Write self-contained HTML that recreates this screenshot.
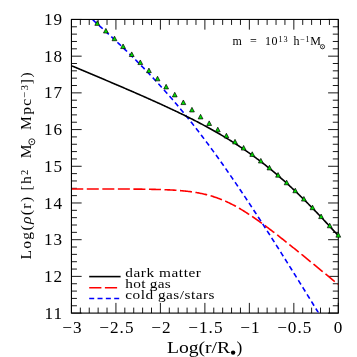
<!DOCTYPE html>
<html><head><meta charset="utf-8"><title>plot</title>
<style>
html,body{margin:0;padding:0;background:#fff;}
body{width:357px;height:357px;overflow:hidden;}
svg{display:block;will-change:transform;}
text{font-family:"Liberation Serif",serif;fill:#000;}
</style></head><body>
<svg width="357" height="357" viewBox="0 0 357 357">
<rect width="357" height="357" fill="#fff"/>
<defs><clipPath id="c"><rect x="71.95" y="19.95" width="265.85" height="292.65"/></clipPath></defs>
<path d="M71.45,313.1 v-10.2 M71.45,19.45 v10.2 M80.35,313.1 v-5.5 M80.35,19.45 v5.5 M89.24,313.1 v-5.5 M89.24,19.45 v5.5 M98.13,313.1 v-5.5 M98.13,19.45 v5.5 M107.03,313.1 v-5.5 M107.03,19.45 v5.5 M115.93,313.1 v-10.2 M115.93,19.45 v10.2 M124.82,313.1 v-5.5 M124.82,19.45 v5.5 M133.72,313.1 v-5.5 M133.72,19.45 v5.5 M142.61,313.1 v-5.5 M142.61,19.45 v5.5 M151.50,313.1 v-5.5 M151.50,19.45 v5.5 M160.40,313.1 v-10.2 M160.40,19.45 v10.2 M169.30,313.1 v-5.5 M169.30,19.45 v5.5 M178.19,313.1 v-5.5 M178.19,19.45 v5.5 M187.09,313.1 v-5.5 M187.09,19.45 v5.5 M195.98,313.1 v-5.5 M195.98,19.45 v5.5 M204.88,313.1 v-10.2 M204.88,19.45 v10.2 M213.77,313.1 v-5.5 M213.77,19.45 v5.5 M222.67,313.1 v-5.5 M222.67,19.45 v5.5 M231.56,313.1 v-5.5 M231.56,19.45 v5.5 M240.46,313.1 v-5.5 M240.46,19.45 v5.5 M249.35,313.1 v-10.2 M249.35,19.45 v10.2 M258.25,313.1 v-5.5 M258.25,19.45 v5.5 M267.14,313.1 v-5.5 M267.14,19.45 v5.5 M276.04,313.1 v-5.5 M276.04,19.45 v5.5 M284.93,313.1 v-5.5 M284.93,19.45 v5.5 M293.83,313.1 v-10.2 M293.83,19.45 v10.2 M302.72,313.1 v-5.5 M302.72,19.45 v5.5 M311.62,313.1 v-5.5 M311.62,19.45 v5.5 M320.51,313.1 v-5.5 M320.51,19.45 v5.5 M329.41,313.1 v-5.5 M329.41,19.45 v5.5 M338.30,313.1 v-10.2 M338.30,19.45 v10.2 M71.45,313.10 h10.2 M338.3,313.10 h-10.2 M71.45,305.76 h5.5 M338.3,305.76 h-5.5 M71.45,298.42 h5.5 M338.3,298.42 h-5.5 M71.45,291.08 h5.5 M338.3,291.08 h-5.5 M71.45,283.74 h5.5 M338.3,283.74 h-5.5 M71.45,276.39 h10.2 M338.3,276.39 h-10.2 M71.45,269.05 h5.5 M338.3,269.05 h-5.5 M71.45,261.71 h5.5 M338.3,261.71 h-5.5 M71.45,254.37 h5.5 M338.3,254.37 h-5.5 M71.45,247.03 h5.5 M338.3,247.03 h-5.5 M71.45,239.69 h10.2 M338.3,239.69 h-10.2 M71.45,232.35 h5.5 M338.3,232.35 h-5.5 M71.45,225.00 h5.5 M338.3,225.00 h-5.5 M71.45,217.66 h5.5 M338.3,217.66 h-5.5 M71.45,210.32 h5.5 M338.3,210.32 h-5.5 M71.45,202.98 h10.2 M338.3,202.98 h-10.2 M71.45,195.64 h5.5 M338.3,195.64 h-5.5 M71.45,188.30 h5.5 M338.3,188.30 h-5.5 M71.45,180.96 h5.5 M338.3,180.96 h-5.5 M71.45,173.62 h5.5 M338.3,173.62 h-5.5 M71.45,166.28 h10.2 M338.3,166.28 h-10.2 M71.45,158.93 h5.5 M338.3,158.93 h-5.5 M71.45,151.59 h5.5 M338.3,151.59 h-5.5 M71.45,144.25 h5.5 M338.3,144.25 h-5.5 M71.45,136.91 h5.5 M338.3,136.91 h-5.5 M71.45,129.57 h10.2 M338.3,129.57 h-10.2 M71.45,122.23 h5.5 M338.3,122.23 h-5.5 M71.45,114.89 h5.5 M338.3,114.89 h-5.5 M71.45,107.54 h5.5 M338.3,107.54 h-5.5 M71.45,100.20 h5.5 M338.3,100.20 h-5.5 M71.45,92.86 h10.2 M338.3,92.86 h-10.2 M71.45,85.52 h5.5 M338.3,85.52 h-5.5 M71.45,78.18 h5.5 M338.3,78.18 h-5.5 M71.45,70.84 h5.5 M338.3,70.84 h-5.5 M71.45,63.50 h5.5 M338.3,63.50 h-5.5 M71.45,56.16 h10.2 M338.3,56.16 h-10.2 M71.45,48.82 h5.5 M338.3,48.82 h-5.5 M71.45,41.47 h5.5 M338.3,41.47 h-5.5 M71.45,34.13 h5.5 M338.3,34.13 h-5.5 M71.45,26.79 h5.5 M338.3,26.79 h-5.5 M71.45,19.45 h10.2 M338.3,19.45 h-10.2" stroke="#000" stroke-width="0.9" fill="none"/>
<rect x="71.45" y="19.45" width="266.85" height="293.65" fill="none" stroke="#000" stroke-width="1.1"/>
<g clip-path="url(#c)" fill="none"><g transform="scale(1,1.00000)">
<path d="M71.45,188.93 L72.34,188.93 L73.23,188.93 L74.13,188.93 L75.02,188.93 L75.91,188.93 L76.80,188.93 L77.70,188.93 L78.59,188.93 L79.48,188.93 L80.37,188.93 L81.27,188.93 L82.16,188.93 L83.05,188.93 L83.94,188.93 L84.84,188.94 L85.73,188.94 L86.62,188.94 L87.51,188.94 L88.41,188.94 L89.30,188.94 L90.19,188.94 L91.08,188.94 L91.98,188.94 L92.87,188.94 L93.76,188.94 L94.65,188.94 L95.55,188.94 L96.44,188.95 L97.33,188.95 L98.22,188.95 L99.12,188.95 L100.01,188.95 L100.90,188.95 L101.79,188.95 L102.69,188.95 L103.58,188.96 L104.47,188.96 L105.36,188.96 L106.26,188.96 L107.15,188.96 L108.04,188.97 L108.93,188.97 L109.83,188.97 L110.72,188.97 L111.61,188.97 L112.50,188.98 L113.40,188.98 L114.29,188.98 L115.18,188.98 L116.07,188.99 L116.97,188.99 L117.86,188.99 L118.75,189.00 L119.64,189.00 L120.54,189.00 L121.43,189.01 L122.32,189.01 L123.21,189.02 L124.11,189.02 L125.00,189.02 L125.89,189.03 L126.78,189.03 L127.68,189.04 L128.57,189.04 L129.46,189.05 L130.35,189.06 L131.25,189.06 L132.14,189.07 L133.03,189.08 L133.92,189.08 L134.82,189.09 L135.71,189.10 L136.60,189.11 L137.49,189.12 L138.39,189.13 L139.28,189.13 L140.17,189.14 L141.06,189.16 L141.96,189.17 L142.85,189.18 L143.74,189.19 L144.63,189.20 L145.53,189.22 L146.42,189.23 L147.31,189.24 L148.20,189.26 L149.10,189.27 L149.99,189.29 L150.88,189.31 L151.77,189.33 L152.67,189.34 L153.56,189.36 L154.45,189.38 L155.34,189.41 L156.24,189.43 L157.13,189.45 L158.02,189.48 L158.91,189.50 L159.81,189.53 L160.70,189.56 L161.59,189.59 L162.48,189.62 L163.37,189.65 L164.27,189.68 L165.16,189.72 L166.05,189.76 L166.94,189.79 L167.84,189.83 L168.73,189.88 L169.62,189.92 L170.51,189.96 L171.41,190.01 L172.30,190.06 L173.19,190.11 L174.08,190.17 L174.98,190.22 L175.87,190.28 L176.76,190.34 L177.65,190.41 L178.55,190.48 L179.44,190.55 L180.33,190.62 L181.22,190.69 L182.12,190.77 L183.01,190.86 L183.90,190.94 L184.79,191.03 L185.69,191.12 L186.58,191.22 L187.47,191.32 L188.36,191.43 L189.26,191.54 L190.15,191.65 L191.04,191.77 L191.93,191.89 L192.83,192.02 L193.72,192.15 L194.61,192.29 L195.50,192.43 L196.40,192.58 L197.29,192.73 L198.18,192.89 L199.07,193.06 L199.97,193.23 L200.86,193.41 L201.75,193.59 L202.64,193.78 L203.54,193.98 L204.43,194.18 L205.32,194.39 L206.21,194.61 L207.11,194.83 L208.00,195.07 L208.89,195.31 L209.78,195.55 L210.68,195.81 L211.57,196.07 L212.46,196.34 L213.35,196.62 L214.25,196.90 L215.14,197.20 L216.03,197.50 L216.92,197.81 L217.82,198.13 L218.71,198.46 L219.60,198.79 L220.49,199.14 L221.39,199.49 L222.28,199.85 L223.17,200.22 L224.06,200.60 L224.96,200.99 L225.85,201.38 L226.74,201.78 L227.63,202.20 L228.53,202.62 L229.42,203.05 L230.31,203.48 L231.20,203.93 L232.10,204.38 L232.99,204.84 L233.88,205.31 L234.77,205.79 L235.67,206.27 L236.56,206.77 L237.45,207.27 L238.34,207.77 L239.24,208.29 L240.13,208.81 L241.02,209.34 L241.91,209.87 L242.81,210.41 L243.70,210.96 L244.59,211.52 L245.48,212.08 L246.38,212.65 L247.27,213.22 L248.16,213.80 L249.05,214.38 L249.94,214.97 L250.84,215.57 L251.73,216.17 L252.62,216.78 L253.51,217.39 L254.41,218.00 L255.30,218.62 L256.19,219.25 L257.08,219.87 L257.98,220.51 L258.87,221.14 L259.76,221.79 L260.65,222.43 L261.55,223.08 L262.44,223.73 L263.33,224.39 L264.22,225.04 L265.12,225.71 L266.01,226.37 L266.90,227.04 L267.79,227.71 L268.69,228.38 L269.58,229.06 L270.47,229.74 L271.36,230.42 L272.26,231.10 L273.15,231.79 L274.04,232.47 L274.93,233.16 L275.83,233.86 L276.72,234.55 L277.61,235.24 L278.50,235.94 L279.40,236.64 L280.29,237.34 L281.18,238.04 L282.07,238.75 L282.97,239.45 L283.86,240.16 L284.75,240.86 L285.64,241.57 L286.54,242.28 L287.43,243.00 L288.32,243.71 L289.21,244.42 L290.11,245.14 L291.00,245.85 L291.89,246.57 L292.78,247.28 L293.68,248.00 L294.57,248.72 L295.46,249.44 L296.35,250.16 L297.25,250.88 L298.14,251.60 L299.03,252.33 L299.92,253.05 L300.82,253.77 L301.71,254.50 L302.60,255.22 L303.49,255.95 L304.39,256.67 L305.28,257.40 L306.17,258.13 L307.06,258.85 L307.96,259.58 L308.85,260.31 L309.74,261.04 L310.63,261.77 L311.53,262.50 L312.42,263.23 L313.31,263.96 L314.20,264.69 L315.10,265.42 L315.99,266.15 L316.88,266.88 L317.77,267.61 L318.67,268.34 L319.56,269.07 L320.45,269.80 L321.34,270.54 L322.24,271.27 L323.13,272.00 L324.02,272.73 L324.91,273.47 L325.81,274.20 L326.70,274.93 L327.59,275.66 L328.48,276.40 L329.38,277.13 L330.27,277.87 L331.16,278.60 L332.05,279.33 L332.95,280.07 L333.84,280.80 L334.73,281.54 L335.62,282.27 L336.52,283.01 L337.41,283.74 L338.30,284.47" stroke="#ff0000" stroke-width="1.6" stroke-dasharray="12 3.54" stroke-dashoffset="0.2"/>
<path d="M71.45,1.11 L72.34,1.88 L73.23,2.65 L74.13,3.43 L75.02,4.20 L75.91,4.98 L76.80,5.75 L77.70,6.53 L78.59,7.31 L79.48,8.09 L80.37,8.87 L81.27,9.65 L82.16,10.43 L83.05,11.21 L83.94,12.00 L84.84,12.78 L85.73,13.57 L86.62,14.35 L87.51,15.14 L88.41,15.93 L89.30,16.72 L90.19,17.51 L91.08,18.30 L91.98,19.10 L92.87,19.89 L93.76,20.69 L94.65,21.49 L95.55,22.28 L96.44,23.08 L97.33,23.89 L98.22,24.69 L99.12,25.49 L100.01,26.30 L100.90,27.11 L101.79,27.91 L102.69,28.72 L103.58,29.54 L104.47,30.35 L105.36,31.16 L106.26,31.98 L107.15,32.80 L108.04,33.62 L108.93,34.44 L109.83,35.26 L110.72,36.09 L111.61,36.92 L112.50,37.74 L113.40,38.58 L114.29,39.41 L115.18,40.24 L116.07,41.08 L116.97,41.92 L117.86,42.76 L118.75,43.60 L119.64,44.45 L120.54,45.29 L121.43,46.14 L122.32,46.99 L123.21,47.85 L124.11,48.70 L125.00,49.56 L125.89,50.42 L126.78,51.28 L127.68,52.15 L128.57,53.02 L129.46,53.89 L130.35,54.76 L131.25,55.64 L132.14,56.51 L133.03,57.39 L133.92,58.28 L134.82,59.16 L135.71,60.05 L136.60,60.94 L137.49,61.84 L138.39,62.74 L139.28,63.64 L140.17,64.54 L141.06,65.45 L141.96,66.36 L142.85,67.27 L143.74,68.18 L144.63,69.10 L145.53,70.03 L146.42,70.95 L147.31,71.88 L148.20,72.81 L149.10,73.75 L149.99,74.68 L150.88,75.63 L151.77,76.57 L152.67,77.52 L153.56,78.47 L154.45,79.43 L155.34,80.39 L156.24,81.35 L157.13,82.32 L158.02,83.29 L158.91,84.26 L159.81,85.24 L160.70,86.22 L161.59,87.21 L162.48,88.19 L163.37,89.19 L164.27,90.18 L165.16,91.19 L166.05,92.19 L166.94,93.20 L167.84,94.21 L168.73,95.23 L169.62,96.25 L170.51,97.27 L171.41,98.30 L172.30,99.33 L173.19,100.37 L174.08,101.41 L174.98,102.46 L175.87,103.51 L176.76,104.56 L177.65,105.62 L178.55,106.68 L179.44,107.75 L180.33,108.82 L181.22,109.89 L182.12,110.97 L183.01,112.05 L183.90,113.14 L184.79,114.23 L185.69,115.33 L186.58,116.43 L187.47,117.53 L188.36,118.64 L189.26,119.75 L190.15,120.87 L191.04,121.99 L191.93,123.11 L192.83,124.24 L193.72,125.38 L194.61,126.52 L195.50,127.66 L196.40,128.80 L197.29,129.96 L198.18,131.11 L199.07,132.27 L199.97,133.43 L200.86,134.60 L201.75,135.77 L202.64,136.95 L203.54,138.13 L204.43,139.31 L205.32,140.50 L206.21,141.69 L207.11,142.89 L208.00,144.09 L208.89,145.29 L209.78,146.50 L210.68,147.71 L211.57,148.92 L212.46,150.14 L213.35,151.37 L214.25,152.59 L215.14,153.82 L216.03,155.06 L216.92,156.30 L217.82,157.54 L218.71,158.78 L219.60,160.03 L220.49,161.29 L221.39,162.54 L222.28,163.80 L223.17,165.07 L224.06,166.33 L224.96,167.60 L225.85,168.88 L226.74,170.15 L227.63,171.43 L228.53,172.72 L229.42,174.00 L230.31,175.29 L231.20,176.59 L232.10,177.88 L232.99,179.18 L233.88,180.48 L234.77,181.79 L235.67,183.10 L236.56,184.41 L237.45,185.72 L238.34,187.04 L239.24,188.36 L240.13,189.68 L241.02,191.01 L241.91,192.34 L242.81,193.67 L243.70,195.00 L244.59,196.34 L245.48,197.68 L246.38,199.02 L247.27,200.36 L248.16,201.71 L249.05,203.05 L249.94,204.40 L250.84,205.76 L251.73,207.11 L252.62,208.47 L253.51,209.83 L254.41,211.19 L255.30,212.56 L256.19,213.92 L257.08,215.29 L257.98,216.66 L258.87,218.04 L259.76,219.41 L260.65,220.79 L261.55,222.17 L262.44,223.55 L263.33,224.93 L264.22,226.31 L265.12,227.70 L266.01,229.09 L266.90,230.47 L267.79,231.87 L268.69,233.26 L269.58,234.65 L270.47,236.05 L271.36,237.45 L272.26,238.84 L273.15,240.25 L274.04,241.65 L274.93,243.05 L275.83,244.46 L276.72,245.86 L277.61,247.27 L278.50,248.68 L279.40,250.09 L280.29,251.50 L281.18,252.92 L282.07,254.33 L282.97,255.75 L283.86,257.16 L284.75,258.58 L285.64,260.00 L286.54,261.42 L287.43,262.84 L288.32,264.26 L289.21,265.69 L290.11,267.11 L291.00,268.54 L291.89,269.96 L292.78,271.39 L293.68,272.82 L294.57,274.25 L295.46,275.68 L296.35,277.11 L297.25,278.54 L298.14,279.98 L299.03,281.41 L299.92,282.85 L300.82,284.28 L301.71,285.72 L302.60,287.16 L303.49,288.60 L304.39,290.03 L305.28,291.47 L306.17,292.91 L307.06,294.36 L307.96,295.80 L308.85,297.24 L309.74,298.68 L310.63,300.13 L311.53,301.57 L312.42,303.02 L313.31,304.46 L314.20,305.91 L315.10,307.36 L315.99,308.80 L316.88,310.25 L317.77,311.70 L318.67,313.15 L319.56,314.60 L320.45,316.05 L321.34,317.50 L322.24,318.95 L323.13,320.40 L324.02,321.86 L324.91,323.31 L325.81,324.76 L326.70,326.21 L327.59,327.67 L328.48,329.12 L329.38,330.58 L330.27,332.03 L331.16,333.49 L332.05,334.94 L332.95,336.40 L333.84,337.86 L334.73,339.32 L335.62,340.77 L336.52,342.23 L337.41,343.69 L338.30,345.15" stroke="#0000ff" stroke-width="1.6" stroke-dasharray="5 3.33" stroke-dashoffset="-3.38"/>
<path d="M71.45,65.75 L72.34,66.12 L73.23,66.49 L74.13,66.86 L75.02,67.24 L75.91,67.61 L76.80,67.98 L77.70,68.36 L78.59,68.73 L79.48,69.10 L80.37,69.47 L81.27,69.85 L82.16,70.22 L83.05,70.60 L83.94,70.97 L84.84,71.34 L85.73,71.72 L86.62,72.09 L87.51,72.47 L88.41,72.84 L89.30,73.22 L90.19,73.59 L91.08,73.97 L91.98,74.34 L92.87,74.72 L93.76,75.09 L94.65,75.47 L95.55,75.84 L96.44,76.22 L97.33,76.59 L98.22,76.97 L99.12,77.35 L100.01,77.72 L100.90,78.10 L101.79,78.48 L102.69,78.86 L103.58,79.23 L104.47,79.61 L105.36,79.99 L106.26,80.37 L107.15,80.75 L108.04,81.12 L108.93,81.50 L109.83,81.88 L110.72,82.26 L111.61,82.64 L112.50,83.02 L113.40,83.40 L114.29,83.78 L115.18,84.16 L116.07,84.54 L116.97,84.92 L117.86,85.31 L118.75,85.69 L119.64,86.07 L120.54,86.45 L121.43,86.84 L122.32,87.22 L123.21,87.60 L124.11,87.99 L125.00,88.37 L125.89,88.76 L126.78,89.14 L127.68,89.53 L128.57,89.91 L129.46,90.30 L130.35,90.68 L131.25,91.07 L132.14,91.46 L133.03,91.85 L133.92,92.23 L134.82,92.62 L135.71,93.01 L136.60,93.40 L137.49,93.79 L138.39,94.18 L139.28,94.57 L140.17,94.97 L141.06,95.36 L141.96,95.75 L142.85,96.14 L143.74,96.54 L144.63,96.93 L145.53,97.33 L146.42,97.72 L147.31,98.12 L148.20,98.52 L149.10,98.91 L149.99,99.31 L150.88,99.71 L151.77,100.11 L152.67,100.51 L153.56,100.91 L154.45,101.31 L155.34,101.71 L156.24,102.12 L157.13,102.52 L158.02,102.93 L158.91,103.33 L159.81,103.74 L160.70,104.14 L161.59,104.55 L162.48,104.96 L163.37,105.37 L164.27,105.78 L165.16,106.19 L166.05,106.61 L166.94,107.02 L167.84,107.43 L168.73,107.85 L169.62,108.27 L170.51,108.68 L171.41,109.10 L172.30,109.52 L173.19,109.94 L174.08,110.37 L174.98,110.79 L175.87,111.21 L176.76,111.64 L177.65,112.07 L178.55,112.49 L179.44,112.92 L180.33,113.35 L181.22,113.79 L182.12,114.22 L183.01,114.65 L183.90,115.09 L184.79,115.53 L185.69,115.97 L186.58,116.41 L187.47,116.85 L188.36,117.29 L189.26,117.74 L190.15,118.19 L191.04,118.63 L191.93,119.08 L192.83,119.54 L193.72,119.99 L194.61,120.44 L195.50,120.90 L196.40,121.36 L197.29,121.82 L198.18,122.28 L199.07,122.75 L199.97,123.21 L200.86,123.68 L201.75,124.15 L202.64,124.63 L203.54,125.10 L204.43,125.58 L205.32,126.06 L206.21,126.54 L207.11,127.02 L208.00,127.51 L208.89,127.99 L209.78,128.49 L210.68,128.98 L211.57,129.47 L212.46,129.97 L213.35,130.47 L214.25,130.97 L215.14,131.48 L216.03,131.99 L216.92,132.50 L217.82,133.01 L218.71,133.52 L219.60,134.04 L220.49,134.56 L221.39,135.09 L222.28,135.61 L223.17,136.14 L224.06,136.68 L224.96,137.21 L225.85,137.75 L226.74,138.29 L227.63,138.84 L228.53,139.38 L229.42,139.94 L230.31,140.49 L231.20,141.05 L232.10,141.61 L232.99,142.17 L233.88,142.74 L234.77,143.31 L235.67,143.88 L236.56,144.46 L237.45,145.04 L238.34,145.63 L239.24,146.22 L240.13,146.81 L241.02,147.40 L241.91,148.00 L242.81,148.60 L243.70,149.21 L244.59,149.82 L245.48,150.43 L246.38,151.05 L247.27,151.67 L248.16,152.30 L249.05,152.93 L249.94,153.56 L250.84,154.20 L251.73,154.84 L252.62,155.48 L253.51,156.13 L254.41,156.79 L255.30,157.44 L256.19,158.10 L257.08,158.77 L257.98,159.44 L258.87,160.11 L259.76,160.79 L260.65,161.47 L261.55,162.16 L262.44,162.85 L263.33,163.54 L264.22,164.24 L265.12,164.94 L266.01,165.65 L266.90,166.36 L267.79,167.07 L268.69,167.79 L269.58,168.52 L270.47,169.25 L271.36,169.98 L272.26,170.71 L273.15,171.46 L274.04,172.20 L274.93,172.95 L275.83,173.70 L276.72,174.46 L277.61,175.22 L278.50,175.99 L279.40,176.76 L280.29,177.53 L281.18,178.31 L282.07,179.10 L282.97,179.88 L283.86,180.68 L284.75,181.47 L285.64,182.27 L286.54,183.07 L287.43,183.88 L288.32,184.69 L289.21,185.51 L290.11,186.33 L291.00,187.15 L291.89,187.98 L292.78,188.82 L293.68,189.65 L294.57,190.49 L295.46,191.34 L296.35,192.18 L297.25,193.03 L298.14,193.89 L299.03,194.75 L299.92,195.61 L300.82,196.48 L301.71,197.35 L302.60,198.22 L303.49,199.10 L304.39,199.98 L305.28,200.87 L306.17,201.76 L307.06,202.65 L307.96,203.54 L308.85,204.44 L309.74,205.35 L310.63,206.25 L311.53,207.16 L312.42,208.07 L313.31,208.99 L314.20,209.91 L315.10,210.83 L315.99,211.76 L316.88,212.68 L317.77,213.62 L318.67,214.55 L319.56,215.49 L320.45,216.43 L321.34,217.37 L322.24,218.32 L323.13,219.27 L324.02,220.22 L324.91,221.17 L325.81,222.13 L326.70,223.09 L327.59,224.05 L328.48,225.02 L329.38,225.99 L330.27,226.96 L331.16,227.93 L332.05,228.91 L332.95,229.89 L333.84,230.87 L334.73,231.85 L335.62,232.83 L336.52,233.82 L337.41,234.81 L338.30,235.80" stroke="#000" stroke-width="1.6"/>
</g>
</g>
<g fill="#00e000" stroke="#000" stroke-width="0.7" stroke-linejoin="miter"><path d="M94.87,25.36 L99.67,25.36 L97.27,20.76 Z"/><path d="M103.48,33.00 L108.28,33.00 L105.88,28.40 Z"/><path d="M112.09,40.73 L116.89,40.73 L114.49,36.13 Z"/><path d="M120.70,48.57 L125.50,48.57 L123.10,43.97 Z"/><path d="M129.31,56.52 L134.11,56.52 L131.71,51.92 Z"/><path d="M137.91,64.57 L142.71,64.57 L140.31,59.97 Z"/><path d="M146.52,72.68 L151.32,72.68 L148.92,68.08 Z"/><path d="M155.13,80.83 L159.93,80.83 L157.53,76.23 Z"/><path d="M163.74,88.93 L168.54,88.93 L166.14,84.33 Z"/><path d="M172.35,96.88 L177.15,96.88 L174.75,92.28 Z"/><path d="M180.95,104.59 L185.75,104.59 L183.35,99.99 Z"/><path d="M189.56,111.95 L194.36,111.95 L191.96,107.35 Z"/><path d="M198.17,118.92 L202.97,118.92 L200.57,114.32 Z"/><path d="M206.78,125.49 L211.58,125.49 L209.18,120.89 Z"/><path d="M215.39,131.77 L220.19,131.77 L217.79,127.17 Z"/><path d="M224.00,137.86 L228.80,137.86 L226.40,133.26 Z"/><path d="M232.60,143.92 L237.40,143.92 L235.00,139.32 Z"/><path d="M241.21,150.06 L246.01,150.06 L243.61,145.46 Z"/><path d="M249.82,156.39 L254.62,156.39 L252.22,151.79 Z"/><path d="M258.43,162.99 L263.23,162.99 L260.83,158.39 Z"/><path d="M267.04,169.90 L271.84,169.90 L269.44,165.30 Z"/><path d="M275.64,177.16 L280.44,177.16 L278.04,172.56 Z"/><path d="M284.25,184.78 L289.05,184.78 L286.65,180.18 Z"/><path d="M292.86,192.76 L297.66,192.76 L295.26,188.16 Z"/><path d="M301.47,201.07 L306.27,201.07 L303.87,196.47 Z"/><path d="M310.08,209.70 L314.88,209.70 L312.48,205.10 Z"/><path d="M318.68,218.61 L323.48,218.61 L321.08,214.01 Z"/><path d="M327.29,227.78 L332.09,227.78 L329.69,223.18 Z"/><path d="M335.90,237.15 L340.70,237.15 L338.30,232.55 Z"/></g>
<text transform="translate(63.2,318.70) scale(1.06,1)" font-size="16.2" text-anchor="end" letter-spacing="1.0">11</text>
<text transform="translate(63.2,281.99) scale(1.06,1)" font-size="16.2" text-anchor="end" letter-spacing="1.0">12</text>
<text transform="translate(63.2,245.29) scale(1.06,1)" font-size="16.2" text-anchor="end" letter-spacing="1.0">13</text>
<text transform="translate(63.2,208.58) scale(1.06,1)" font-size="16.2" text-anchor="end" letter-spacing="1.0">14</text>
<text transform="translate(63.2,171.88) scale(1.06,1)" font-size="16.2" text-anchor="end" letter-spacing="1.0">15</text>
<text transform="translate(63.2,135.17) scale(1.06,1)" font-size="16.2" text-anchor="end" letter-spacing="1.0">16</text>
<text transform="translate(63.2,98.46) scale(1.06,1)" font-size="16.2" text-anchor="end" letter-spacing="1.0">17</text>
<text transform="translate(63.2,61.76) scale(1.06,1)" font-size="16.2" text-anchor="end" letter-spacing="1.0">18</text>
<text transform="translate(63.2,25.05) scale(1.06,1)" font-size="16.2" text-anchor="end" letter-spacing="1.0">19</text>
<text transform="translate(72.45,332.8) scale(1.06,1)" font-size="16.2" text-anchor="middle" letter-spacing="1.0">−3</text>
<text transform="translate(116.93,332.8) scale(1.06,1)" font-size="16.2" text-anchor="middle" letter-spacing="1.0">−2.5</text>
<text transform="translate(161.40,332.8) scale(1.06,1)" font-size="16.2" text-anchor="middle" letter-spacing="1.0">−2</text>
<text transform="translate(205.88,332.8) scale(1.06,1)" font-size="16.2" text-anchor="middle" letter-spacing="1.0">−1.5</text>
<text transform="translate(250.35,332.8) scale(1.06,1)" font-size="16.2" text-anchor="middle" letter-spacing="1.0">−1</text>
<text transform="translate(294.83,332.8) scale(1.06,1)" font-size="16.2" text-anchor="middle" letter-spacing="1.0">−0.5</text>
<text transform="translate(338.50,332.8) scale(1.06,1)" font-size="16.2" text-anchor="middle" letter-spacing="1.0">0</text>
<text x="166.9" y="353.2" font-size="16.5" textLength="63.3" lengthAdjust="spacingAndGlyphs">Log(r/R</text>
<circle cx="233.1" cy="352.6" r="2.2" fill="#000"/>
<text x="236.4" y="353.2" font-size="16.5" textLength="5.8" lengthAdjust="spacingAndGlyphs">)</text>
<g transform="translate(31.2,259.6) rotate(-90)" font-size="15.5" letter-spacing="1.37">
<text x="0" y="0">Log(<tspan font-style="italic">ρ</tspan>(r)</text>
<text x="69.0" y="0">[h<tspan font-size="10.5" dy="-3.3">2</tspan></text>
<text x="101.4" y="0">M</text>
<circle cx="117.8" cy="0.6" r="3.0" fill="none" stroke="#000" stroke-width="0.85"/><circle cx="117.8" cy="0.6" r="0.75" fill="#000"/>
<text x="129.6" y="0">Mpc<tspan font-size="10.5" dy="-3.3">−3</tspan><tspan dy="3.3" dx="-0.6">])</tspan></text>
</g>
<text x="232.6" y="45.3" font-size="12" letter-spacing="0.7" xml:space="preserve">m  =  10<tspan font-size="8.2" dy="-3.6" dx="0.3">13</tspan><tspan dy="3.6" dx="1.6"> h</tspan><tspan font-size="8.2" dy="-3.6">−1</tspan><tspan dy="3.6" dx="0">M</tspan></text>
<circle cx="322.5" cy="46.7" r="2.1" fill="none" stroke="#000" stroke-width="0.8"/><circle cx="322.5" cy="46.7" r="0.55" fill="#000"/>
<path d="M89.2,276.6 H120.6" stroke="#000" stroke-width="1.6"/>
<path d="M89.2,287.7 H120.6" stroke="#f00" stroke-width="1.6" stroke-dasharray="12.2 3.5"/>
<path d="M89.2,298.5 H120.6" stroke="#00f" stroke-width="1.6" stroke-dasharray="5 3.33"/>
<text transform="translate(125.3,277.0) scale(1.32,1)" font-size="11.6" textLength="57.27" lengthAdjust="spacing" xml:space="preserve">dark matter</text>
<text transform="translate(125.3,287.6) scale(1.32,1)" font-size="11.6" textLength="34.39" lengthAdjust="spacing" xml:space="preserve">hot gas</text>
<text transform="translate(125.3,298.5) scale(1.32,1)" font-size="11.6" textLength="67.65" lengthAdjust="spacing" xml:space="preserve">cold gas/stars</text>
</svg>
</body></html>
